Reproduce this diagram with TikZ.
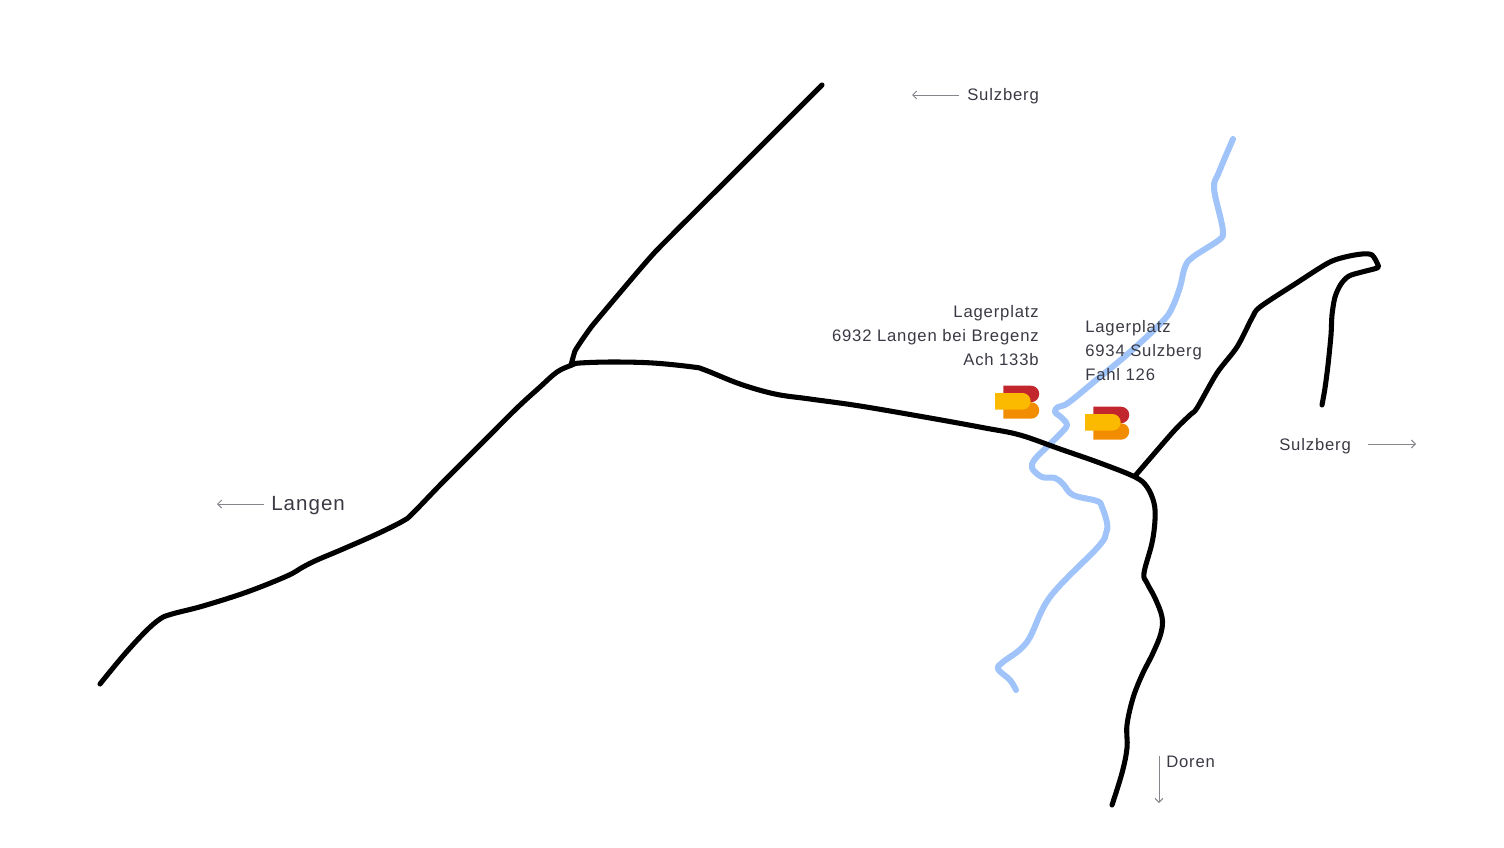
\documentclass[tikz,border=0pt]{standalone}
\usepackage{fontspec}
\setmainfont{Liberation Sans}[LetterSpace=5]
\definecolor{roadc}{HTML}{000000}
\definecolor{riverc}{HTML}{A0C4FA}
\definecolor{textc}{HTML}{3A3A44}
\definecolor{arrc}{HTML}{85858C}
\definecolor{logor}{HTML}{C1272D}
\definecolor{logoo}{HTML}{F28C00}
\definecolor{logoy}{HTML}{FBB900}
\usetikzlibrary{arrows.meta}
\tikzset{
  x=0.75pt,y=-0.75pt,
  road/.style={draw=roadc,line width=3.8pt,line cap=round,line join=round},
  river/.style={draw=riverc,line width=4.5pt,line cap=round,line join=round},
  lbl/.style={text=textc,font=\fontsize{12.5}{18}\selectfont,inner sep=0pt},
  biglbl/.style={text=textc,font=\fontsize{15.4}{18}\selectfont,inner sep=0pt},
  pointer/.style={draw=arrc,line width=0.7pt,-{Straight Barb[length=3pt,width=6pt]}},
}
\newcommand{\logomark}[2]{%
  \begin{scope}[shift={(#1,#2)}]
    \fill[logor] (8.3,0) -- (36,0) arc[start angle=-90,end angle=90,radius=8.25] -- (8.3,16.5) -- cycle;
    \fill[logoo] (8.3,16.5) -- (36,16.5) arc[start angle=-90,end angle=90,radius=8.25] -- (8.3,33) -- cycle;
    \fill[logoy] (0,7.3) -- (27.4,7.3) arc[start angle=-90,end angle=90,radius=8.3] -- (0,23.9) -- cycle;
  \end{scope}}
\begin{document}
\begin{tikzpicture}
\useasboundingbox (0,0) rectangle (1504,847);
% river
\draw[river] plot[smooth,tension=0.6] coordinates {(1233,139) (1219,172) (1214,188) (1221,220) (1223,233) (1219,240) (1193,257) (1185,267) (1180,287) (1172,308) (1162,322) (1130,352) (1095,381) (1068,403) (1058,407) (1055,412) (1062,418) (1067,425) (1062,432) (1048,446) (1035,459) (1032,468) (1042,477) (1055,478) (1063,484) (1073,495) (1097,501) (1102,507) (1107,523) (1106,533) (1098,547) (1050,597) (1027,642) (1003,662) (998,669) (1010,680) (1016,690)};
% roads
\draw[road] plot[smooth,tension=0.25] coordinates {(822,85) (739,168) (656,251) (618,295) (592,326) (582,340) (575,351) (571,365)};
\draw[road] plot[smooth,tension=0.6] coordinates {(100,684) (123,656) (145,632) (160,619) (172,614) (203,606) (247,592) (287,576) (303,567) (317,560) (343,549) (377,534) (403,521) (413,513) (443,482) (483,442) (517,408) (540,387) (557,372) (572,365) (580,363) (613,362) (653,363) (693,367) (705,370) (740,384) (775,394) (810,399) (860,406) (930,418) (985,428) (1020,435) (1060,449) (1100,463) (1135,477) (1147,487) (1154,503) (1155,520) (1152,543) (1144,573) (1147,583) (1155,598) (1162,617) (1161,633) (1153,653) (1142,675) (1133,698) (1127,725) (1127,748) (1122,773) (1112,805)};
\draw[road] plot[smooth,tension=0.5] coordinates {(1135,476) (1173,432) (1190,415) (1197,408) (1217,373) (1237,347) (1252,318) (1260,307) (1295,284) (1328,263) (1345,257) (1362,254) (1372,255) (1378,265) (1377,268) (1362,272) (1349,276) (1341,284) (1335,297) (1332,315) (1331,335) (1328,365) (1325,388) (1322,405)};
% logos
\logomark{995}{385.7}
\logomark{1085}{406.7}
% labels
\node[lbl,anchor=base east] (a1) at (1039,317) {Lagerplatz};
\node[lbl,anchor=base east] (a2) at (1039,341) {6932 Langen bei Bregenz};
\node[lbl,anchor=base east] (a3) at (1039,365) {Ach 133b};
\node[lbl,anchor=base west] (b1) at (1085,332) {Lagerplatz};
\node[lbl,anchor=base west] (b2) at (1085,356) {6934 Sulzberg};
\node[lbl,anchor=base west] (b3) at (1085,380) {Fahl 126};
\node[lbl,anchor=base west] (s1) at (967,100) {Sulzberg};
\node[lbl,anchor=base west] (s2) at (1279,450) {Sulzberg};
\node[lbl,anchor=base west] (d) at (1166,767) {Doren};
\node[biglbl,anchor=base west] (l) at (271,510) {Langen};
% pointers
\coordinate (p1a) at (959,95); \coordinate (p1b) at (912,95);
\coordinate (p2a) at (1368,444); \coordinate (p2b) at (1416,444);
\coordinate (p3a) at (1159,756); \coordinate (p3b) at (1159,803);
\coordinate (p4a) at (264,504); \coordinate (p4b) at (217,504);
\draw[pointer] (p1a) -- (p1b);
\draw[pointer] (p2a) -- (p2b);
\draw[pointer] (p3a) -- (p3b);
\draw[pointer] (p4a) -- (p4b);
\end{tikzpicture}
\end{document}
